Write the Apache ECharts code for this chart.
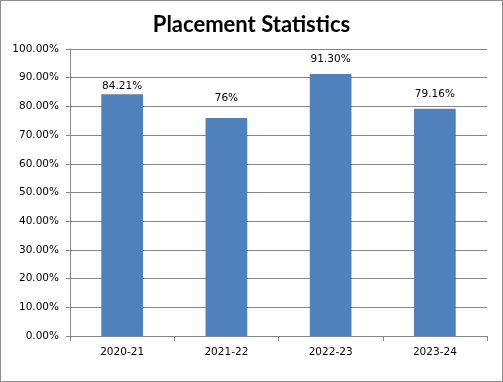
<!DOCTYPE html>
<html><head><meta charset="utf-8">
<script src="https://cdn.jsdelivr.net/npm/echarts@6/dist/echarts.min.js"></script>
<style>html,body{margin:0;padding:0;background:#fff}#c{width:503px;height:382px;box-sizing:border-box;border:1px solid #8c8c8c}</style>
</head><body><div id="c"></div>
<script>
const categories = ['2020-21','2021-22','2022-23','2023-24'];
const values = [84.21, 76, 91.30, 79.16];
const valueLabels = ['84.21%','76%','91.30%','79.16%'];
const yTicks = [0,10,20,30,40,50,60,70,80,90,100];

const labelGaps = [3, 14, 9, 9];
const chart = echarts.init(document.getElementById('c'));
chart.setOption({
  animation:false,
  title:{text:'Placement Statistics',left:'center',top:8,textStyle:{fontFamily:'Lato',fontWeight:'bold',fontSize:22,color:'#000'}},
  grid:{left:69,right:15,top:48,bottom:45},
  xAxis:{type:'category',data:categories,
    axisLine:{lineStyle:{color:'#868686'}},
    axisTick:{show:true,length:5,lineStyle:{color:'#868686'}},
    axisLabel:{color:'#000',fontFamily:'DejaVu Sans',fontSize:10.5,margin:11}},
  yAxis:{type:'value',min:0,max:100,interval:10,
    axisLine:{show:true,lineStyle:{color:'#868686'}},
    axisTick:{show:true,length:4,lineStyle:{color:'#868686'}},
    splitLine:{lineStyle:{color:'#868686'}},
    axisLabel:{color:'#000',fontFamily:'DejaVu Sans',fontSize:10.5,margin:11,
      formatter:v=>yTicks.includes(v)?v.toFixed(2)+'%':''}},
  series:[{type:'bar',barWidth:'40%',
    data:values.map((v,i)=>({value:v,label:{distance:labelGaps[i],formatter:valueLabels[i]}})),
    itemStyle:{color:'#4F81BD'},
    label:{show:true,position:'top',color:'#000',fontFamily:'DejaVu Sans',fontSize:10.5}}]
});
</script></body></html>
